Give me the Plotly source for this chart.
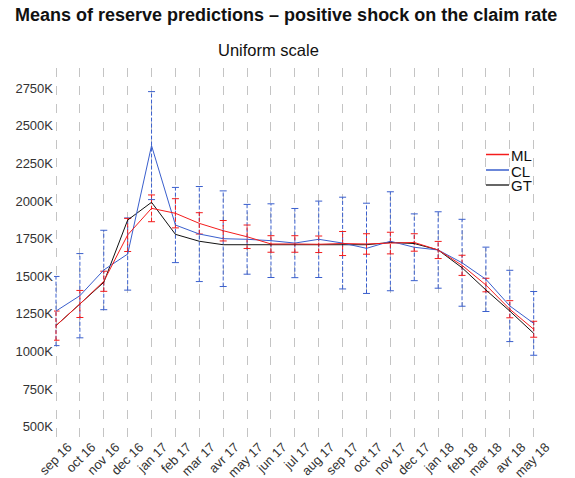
import plotly.graph_objects as go

months = ["sep 16", "oct 16", "nov 16", "dec 16", "jan 17", "feb 17", "mar 17", "avr 17",
          "may 17", "jun 17", "jul 17", "aug 17", "sep 17", "oct 17", "nov 17", "dec 17",
          "jan 18", "feb 18", "mar 18", "avr 18", "may 18"]

# values in thousands
ml = [1172, 1316, 1467, 1775, 1952, 1919, 1852, 1803, 1763, 1715, 1715, 1713, 1718, 1715,
      1721, 1725, 1675, 1573, 1442, 1281, 1148]
ml_err = [97, 90, 67, 110, 89, 97, 71, 68, 78, 55, 55, 55, 80, 68, 72, 58, 57, 67, 45, 57, 53]
cl = [1269, 1371, 1542, 1648, 2369, 1841, 1781, 1750, 1746, 1737, 1721, 1746, 1721, 1686,
      1733, 1693, 1675, 1590, 1480, 1303, 1187]
cl_err = [230, 280, 264, 240, 359, 250, 316, 318, 232, 245, 230, 254, 305, 300, 329, 222,
          254, 289, 214, 237, 212]
gt = [1172, 1316, 1460, 1874, 1992, 1779, 1733, 1710, 1710, 1710, 1710, 1710, 1710, 1710,
      1725, 1718, 1675, 1557, 1409, 1269, 1121]

legend_names = ["ML", "CL", "GT"]

RED = "#f41c1c"
BLUE = "#3a5fcd"
BLACK = "#111111"

fig = go.Figure()


def add_errbars(vals, errs, color):
    # dashed vertical segments + small caps
    xs, ys = [], []
    cx, cy = [], []
    for m, v, e in zip(months, vals, errs):
        xs += [m, m, None]
        ys += [v - e, v + e, None]
        cx += [m, m]
        cy += [v - e, v + e]
    fig.add_trace(go.Scatter(x=xs, y=ys, mode="lines", showlegend=False, hoverinfo="skip",
                             line=dict(color=color, width=1, dash="4px,2px")))
    fig.add_trace(go.Scatter(x=cx, y=cy, mode="markers", showlegend=False, hoverinfo="skip",
                             marker=dict(symbol="line-ew", size=5, line=dict(color=color, width=1))))


add_errbars(cl, cl_err, BLUE)
add_errbars(ml, ml_err, RED)

fig.add_trace(go.Scatter(x=months, y=gt, mode="lines", name="GT", showlegend=False,
                         line=dict(color=BLACK, width=1)))
fig.add_trace(go.Scatter(x=months, y=cl, mode="lines", name="CL", showlegend=False,
                         line=dict(color=BLUE, width=1)))
fig.add_trace(go.Scatter(x=months, y=ml, mode="lines", name="ML", showlegend=False,
                         line=dict(color=RED, width=1)))

# page body has an 8px margin, so figure px = screen px - 8
W, H = 567, 470
L, R, T, B = 46, 35, 60, 38
pw = W - L - R
ph = H - T - B


def px(x):
    return (x - L) / pw


def py(y):
    return 1 - (y - T) / ph


fig.update_xaxes(type="category", range=[-0.084, 20.264], showgrid=True, griddash="dash",
                 gridcolor="#c4c4c4", gridwidth=1, zeroline=False, showline=False, ticks="",
                 tickangle=-45, ticklabelshift=12, ticklabelstandoff=-4,
                 tickfont=dict(size=13, color="#333333"), automargin=False)
fig.update_yaxes(range=[411.6, 2885], tick0=500, dtick=250, ticksuffix="K", showgrid=False,
                 zeroline=False, showline=False, ticks="",
                 tickfont=dict(size=13, color="#333333"), automargin=False)

annotations = [
    dict(text="<b>Means of reserve predictions \u2013 positive shock on the claim rate</b>",
         xref="paper", yref="paper", x=px(5), y=py(7), xanchor="left", yanchor="middle",
         showarrow=False, font=dict(size=18, color="#111111")),
    dict(text="Uniform scale", xref="paper", yref="paper", x=px(260), y=py(42.5),
         xanchor="center", yanchor="middle", showarrow=False,
         font=dict(size=16.5, color="#111111")),
]
shapes = []
leg_colors = [RED, BLUE, "#333333"]
leg_y = [146.5, 162, 177]
for name, col, ly in zip(legend_names, leg_colors, leg_y):
    shapes.append(dict(type="line", xref="paper", yref="paper", x0=px(478), x1=px(501),
                       y0=py(ly), y1=py(ly), line=dict(color=col, width=1.5)))
    annotations.append(dict(text=name, xref="paper", yref="paper", x=px(501), y=py(ly + 1),
                            xanchor="left", yanchor="middle", showarrow=False,
                            font=dict(size=15, color="#111111")))

fig.update_layout(
    width=W, height=H,
    margin=dict(l=L, r=R, t=T, b=B),
    plot_bgcolor="white", paper_bgcolor="white",
    font=dict(family="Liberation Sans, Arial, sans-serif", color="#111111"),
    showlegend=False,
    annotations=annotations,
    shapes=shapes,
)

fig.write_html("out.html")
